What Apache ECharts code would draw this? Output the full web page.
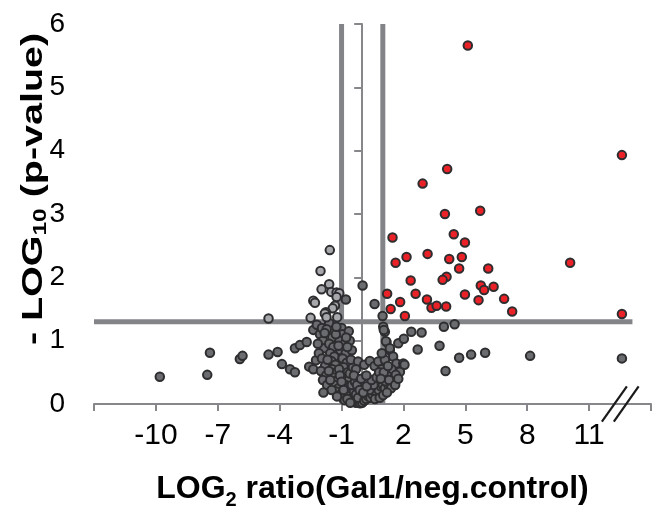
<!DOCTYPE html>
<html><head><meta charset="utf-8">
<script src="https://cdn.jsdelivr.net/npm/echarts@6/dist/echarts.min.js"></script>
<style>html,body{margin:0;padding:0;background:#fff}#c{width:654px;height:509px}</style>
</head><body><div id="c"></div>
<script>
// x axis: log2 ratio, shown ticks -10..11 step 3 (axis spans -13..14)
const xMin = -13, xMax = 14, xStep = 3;
const yMin = 0, yMax = 6, yStep = 1;
const hiddenXLabels = [-13, 14];
const thresholdX = [-1, 1];
const thresholdY = 1.3;
const thresholdYEnd = 13.1;
const xTitle = 'LOG{s|2} ratio(Gal1/neg.control)';
const yTitle = '- LOG{s|10} (p-value)';

// significant, up-regulated (red)
const redPoints = [
  [5.12,5.66],[12.59,3.93],[4.12,3.71],[2.93,3.48],[4.01,3.0],[5.72,3.05],
  [1.47,2.63],[4.44,2.68],[4.98,2.55],[1.62,2.23],[2.15,2.32],[3.17,2.37],
  [4.22,2.29],[4.83,2.32],[4.70,2.14],[6.11,2.14],[10.08,2.23],[2.35,1.95],
  [4.09,2.01],[3.90,1.96],[1.21,1.74],[2.59,1.74],[4.98,1.73],[5.75,1.87],
  [5.91,1.80],[6.37,1.85],[6.88,1.66],[5.64,1.64],[3.14,1.65],[1.84,1.61],
  [1.38,1.50],[3.36,1.52],[3.61,1.55],[4.07,1.54],[2.07,1.39],[7.27,1.46],
  [12.59,1.42]
];
// significant, down (light grey)
const lightPoints = [
  [-1.57,2.43],[-2.02,2.10],[-1.60,1.89],[-1.97,1.81],[-1.50,1.77],[-1.24,1.76],
  [-1.11,1.75],[-1.24,1.69],[-2.37,1.63],[-2.29,1.60],[-1.32,1.55],[-1.43,1.51],
  [-1.76,1.45],[-1.81,1.43],[-1.21,1.37],[-2.50,1.36],[-1.73,1.37],[-4.54,1.35]
];
// not significant (dark grey)
const darkPoints = [
  [-9.81,0.43],[-7.51,0.46],[-7.38,0.81],[-5.93,0.71],[-5.80,0.76],[-4.54,0.78],
  [-4.10,0.82],[-3.89,0.63],[-3.50,0.55],[-3.26,0.50],[-3.26,0.88],[-3.02,0.93],
  [-2.69,0.98],[-2.37,1.17],[-2.57,0.59],[-2.37,0.55],[-2.24,0.69],
  [-2.20,1.25],[-2.05,1.10],[-1.95,1.20],[-1.90,1.00],[-1.85,0.88],[-2.10,0.80],
  [-1.95,0.72],[-1.80,0.60],[-2.00,0.52],[-1.75,0.45],[-1.90,0.38],[-1.70,0.30],
  [-1.60,1.28],[-1.50,1.15],[-1.45,1.05],[-1.60,0.95],[-1.40,0.90],[-1.55,0.80],
  [-1.35,0.75],[-1.50,0.68],[-1.30,0.62],[-1.45,0.55],[-1.25,0.50],[-1.40,0.42],
  [-1.20,0.38],[-1.35,0.30],[-1.15,0.25],[-1.30,0.20],[-1.00,1.20],[-0.95,1.10],
  [-1.10,1.00],[-0.85,0.95],[-1.05,0.85],[-0.80,0.80],[-0.95,0.72],[-0.75,0.65],
  [-0.90,0.58],[-0.70,0.50],[-0.85,0.42],[-0.65,0.38],[-0.80,0.30],[-0.60,0.28],
  [-0.75,0.20],[-0.55,0.18],[-0.65,0.12],[-0.45,0.10],[-0.50,0.06],[-0.35,0.05],
  [-0.30,0.02],[-0.20,0.03],[-0.10,0.01],[0.00,0.02],[-1.05,0.15],[-0.95,0.10],
  [-0.85,0.06],[-0.40,0.20],[-0.30,0.15],[-0.20,0.10],[0.10,0.05],[0.20,0.08],
  [0.30,0.12],[0.40,0.10],[0.50,0.15],[0.60,0.20],[0.70,0.16],[0.80,0.22],
  [0.90,0.28],[1.00,0.30],[1.10,0.25],[0.35,0.22],[0.55,0.30],[-0.50,0.30],
  [-0.35,0.35],[-0.60,0.48],[-0.45,0.58],[-0.55,0.70],[-0.50,0.85],[-0.60,1.00],
  [-0.65,1.15],[-0.20,0.67],[0.10,0.62],[0.37,0.68],[0.60,0.60],[0.78,0.67],
  [0.95,0.55],[-0.30,0.55],
  [-1.72,1.18],[-1.28,1.10],[-1.15,0.92],[-1.68,0.70],[-1.12,0.55],[-1.62,0.52],
  [-1.08,0.45],[-1.55,0.38],[-1.00,0.35],[-1.48,0.22],[-0.90,0.22],[-1.22,0.12],
  [-0.72,0.08],[-0.58,0.02],[-0.40,0.45],[-0.25,0.30],[-0.12,0.22],[0.05,0.18],
  [0.22,0.28],[0.45,0.38],[0.70,0.42],[0.82,0.50],[-0.05,0.40],[0.20,0.45],
  [-2.15,0.95],[-1.82,1.12],[-1.25,1.22],[-0.78,1.05],[-0.72,0.90],[-1.88,0.18],
  [0.62,0.08],[0.85,0.10],[1.02,0.14],[1.28,0.30],[1.45,0.42],[1.12,0.36],
  [1.02,1.22],[1.10,1.14],[1.18,0.98],[1.34,0.85],[1.50,0.75],[1.66,0.64],
  [1.83,0.51],[1.05,1.17],[1.15,0.99],[1.34,0.88],[1.42,0.55],[1.63,0.46],
  [1.50,0.35],[1.20,0.45],[1.30,0.38],[1.05,0.50],[1.10,0.70],[0.95,0.80],
  [1.25,0.60],[1.40,0.25],[1.60,0.30],[1.75,0.40],[1.20,0.18],[0.90,0.40],
  [1.75,0.96],[2.02,1.03],[2.38,1.14],[2.88,1.13],[3.96,1.22],[4.48,1.26],
  [2.69,0.86],[3.75,0.92],[4.70,0.73],[5.28,0.78],[5.96,0.81],[8.14,0.76],
  [4.04,0.52],[1.99,0.64],[2.05,0.62],[12.59,0.72],
  [0.02,1.87],[0.60,1.58],[0.99,1.39],[-0.79,1.65]
];
// axis-break mark end points (data space)
const breakMarks = [
  [[11.62,-0.28],[12.83,0.28]],
  [[12.20,-0.28],[13.40,0.28]]
];

const axisGrey = '#87878b';
const lineGrey = '#838488';
const font = 'Liberation Sans, Arial, sans-serif';

function pointSeries(data, fill, z) {
  return {
    type: 'scatter', data: data, symbol: 'circle', symbolSize: 8.5, z: z,
    itemStyle: { color: fill, borderColor: '#2e2e30', borderWidth: 2, opacity: 1 },
    emphasis: { disabled: true }, silent: true
  };
}
function thresholdSeries(data) {
  return {
    type: 'line', data: data, symbol: 'none', z: 1, silent: true,
    lineStyle: { color: lineGrey, width: 5 }, animation: false
  };
}

const chart = echarts.init(document.getElementById('c'), null, { renderer: 'canvas' });
const option = {
  animation: false,
  backgroundColor: '#fff',
  grid: { left: 94, right: 3, top: 24, bottom: 105, containLabel: false, outerBoundsMode: 'none' },
  xAxis: {
    type: 'value', min: xMin, max: xMax, interval: xStep,
    name: xTitle, nameLocation: 'middle', nameGap: 64,
    nameTextStyle: { color: '#000', fontFamily: font, fontWeight: 'bold', fontSize: 32,
      rich: { s: { fontSize: 20, fontWeight: 'bold', fontFamily: font, color: '#000', padding: [22,0,0,0] } } },
    axisLine: { show: true, onZero: false, lineStyle: { color: axisGrey, width: 2 } },
    axisTick: { show: true, inside: false, length: 7, lineStyle: { color: axisGrey, width: 2 } },
    axisLabel: { color: '#000', fontFamily: font, fontSize: 30, margin: 17,
      formatter: v => hiddenXLabels.includes(v) ? '' : String(v) },
    splitLine: { show: false }
  },
  yAxis: {
    type: 'value', min: yMin, max: yMax, interval: yStep,
    axisLine: { show: true, lineStyle: { color: axisGrey, width: 2 } },
    axisTick: { show: true, inside: false, length: 8, lineStyle: { color: axisGrey, width: 2 } },
    axisLabel: { color: '#000', fontFamily: font, fontSize: 28, margin: 29 },
    splitLine: { show: false }
  },
  series: [
    thresholdSeries([[thresholdX[0], yMin], [thresholdX[0], yMax]]),
    thresholdSeries([[thresholdX[1], yMin], [thresholdX[1], yMax]]),
    thresholdSeries([[xMin, thresholdY], [thresholdYEnd, thresholdY]]),
    pointSeries(darkPoints, '#6b6c6f', 3),
    pointSeries(lightPoints, '#a6a8ab', 4),
    pointSeries(redPoints, '#ea2228', 5)
  ]
};
chart.setOption(option);

const gfx = breakMarks.map(seg => {
  const a = chart.convertToPixel({ gridIndex: 0 }, seg[0]);
  const b = chart.convertToPixel({ gridIndex: 0 }, seg[1]);
  return { type: 'line', silent: true, z: 100,
    shape: { x1: a[0], y1: a[1], x2: b[0], y2: b[1] },
    style: { stroke: '#1a1a1a', lineWidth: 2.2 } };
});
// y-axis title (stretched along its length like the reference)
gfx.push({
  type: 'text', silent: true, z: 100,
  x: 34, y: 189, rotation: Math.PI / 2, scaleX: 1.36, scaleY: 1,
  style: {
    text: yTitle, fill: '#000', align: 'center', verticalAlign: 'middle',
    font: 'bold 29px ' + font,
    rich: { s: { font: 'bold 18px ' + font, fill: '#000', padding: [14,0,0,0] } }
  }
});
chart.setOption({ graphic: gfx });
</script>
</body></html>
